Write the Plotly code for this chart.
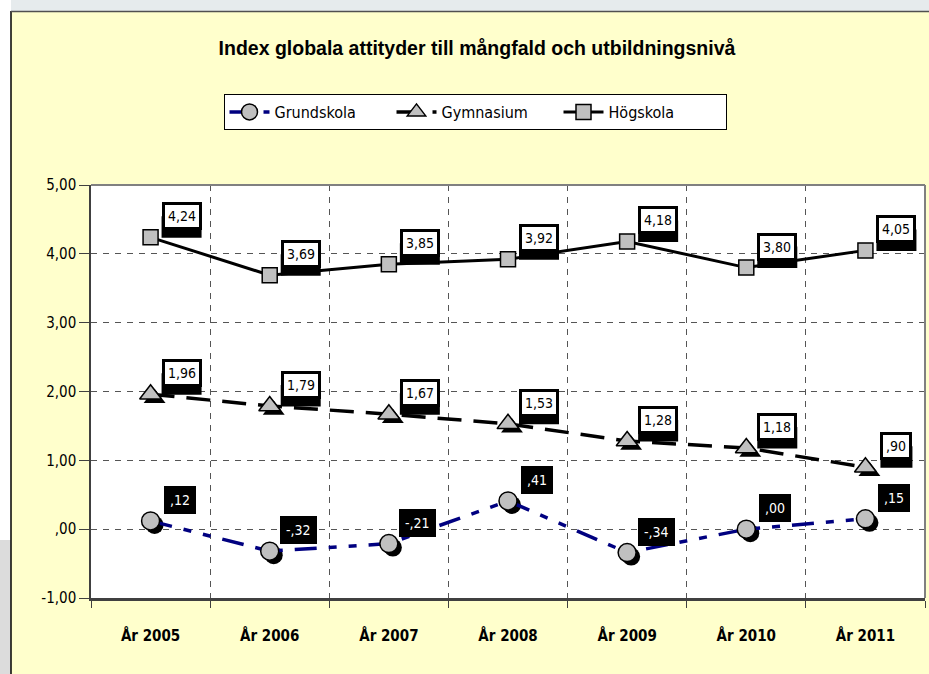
import plotly.graph_objects as go

# ---------------- data ----------------
years = ["År 2005", "År 2006", "År 2007", "År 2008", "År 2009", "År 2010", "År 2011"]
grundskola = [0.12, -0.32, -0.21, 0.41, -0.34, 0.00, 0.15]
gymnasium = [1.96, 1.79, 1.67, 1.53, 1.28, 1.18, 0.90]
hogskola = [4.24, 3.69, 3.85, 3.92, 4.18, 3.80, 4.05]
y_tick_values = [-1, 0, 1, 2, 3, 4, 5]
y_tick_labels = ["-1,00", ",00", "1,00", "2,00", "3,00", "4,00", "5,00"]
title_text = "Index globala attityder till mångfald och utbildningsnivå"

# ---------------- style ----------------
NARROW = "Liberation Sans Narrow, Arial Narrow, DejaVu Sans Condensed, sans-serif"
ARIAL = "Liberation Sans, Arial, sans-serif"
YELLOW = "#FFFFCC"
GREY_MARK = "#C0C0C0"
NAVY = "#000080"

W, H = 929, 674
ML, MR, MT, MB = 91, 4, 185, 76
plot_w = W - ML - MR
plot_h = H - MT - MB
x_idx = list(range(len(years)))
px_per_x = plot_w / len(years)
px_per_y = plot_h / 6.0

LBL_SIZE = 14
BW, PAD = 3, 3


def sv(v):
    s = f"{v:.2f}".replace(".", ",")
    if s.startswith("0,"):
        s = s[1:]
    elif s.startswith("-0,"):
        s = "-" + s[2:]
    return s


def text_w(s):
    w = 0
    for ch in s:
        w += 4.0 if ch == "," else (5.0 if ch == "-" else 8.0)
    return w


def px(p):
    return (p - ML) / plot_w


def py(p):
    return (H - MB - p) / plot_h


fig = go.Figure()

# marker shadows
sdx = 4 / px_per_x
sdy = -4 / px_per_y
fig.add_trace(go.Scatter(x=[i + sdx for i in x_idx], y=[v + sdy for v in grundskola], mode="markers",
                         marker=dict(symbol="circle", size=18, color="black", line=dict(width=0)),
                         showlegend=False, hoverinfo="skip"))
fig.add_trace(go.Scatter(x=[i + sdx for i in x_idx], y=[v + sdy for v in gymnasium], mode="markers",
                         marker=dict(symbol="triangle-up", size=19, color="black", line=dict(width=0)),
                         showlegend=False, hoverinfo="skip"))

fig.add_trace(go.Scatter(
    x=x_idx, y=grundskola, name="Grundskola", mode="lines+markers",
    line=dict(color=NAVY, width=3.5, dash="22px,12px,8px,12px,8px,12px"),
    marker=dict(symbol="circle", size=18, color=GREY_MARK, line=dict(color="black", width=1.5)),
))
fig.add_trace(go.Scatter(
    x=x_idx, y=gymnasium, name="Gymnasium", mode="lines+markers",
    line=dict(color="black", width=3.5, dash="24px,12px"),
    marker=dict(symbol="triangle-up", size=19, color=GREY_MARK, line=dict(color="black", width=1.5)),
))
fig.add_trace(go.Scatter(
    x=x_idx, y=hogskola, name="Högskola", mode="lines+markers",
    line=dict(color="black", width=3),
    marker=dict(symbol="square", size=15, color=GREY_MARK, line=dict(color="black", width=1.5)),
))

annotations = []
shapes = []
DX, DY = 31, 21
box_h = 17 + 2 * PAD + 2 * BW
for series in (hogskola, gymnasium):
    for i, v in zip(x_idx, series):
        t = sv(v)
        bw = text_w(t) + 2 * PAD + 2 * BW
        # thick shadow under the label box
        shapes.append(dict(type="rect", xref="x", yref="y", xsizemode="pixel", ysizemode="pixel",
                           xanchor=i, yanchor=v,
                           x0=DX - bw / 2, x1=DX + bw / 2,
                           y0=DY - box_h / 2 - 7, y1=DY,
                           fillcolor="black", line=dict(width=0), layer="above"))
        annotations.append(dict(x=i, y=v, xref="x", yref="y", text=t, showarrow=False,
                                xshift=DX, yshift=DY,
                                font=dict(family=NARROW, size=LBL_SIZE, color="black"),
                                bgcolor="white", bordercolor="black", borderwidth=BW, borderpad=PAD))
for i, v in zip(x_idx, grundskola):
    annotations.append(dict(x=i, y=v, xref="x", yref="y", text=sv(v), showarrow=False,
                            xshift=DX - 2, yshift=DY,
                            font=dict(family=NARROW, size=LBL_SIZE, color="white"),
                            bgcolor="black", bordercolor="black", borderwidth=0, borderpad=6))

shapes += [
    # top grey strip
    dict(type="rect", xref="paper", yref="paper", x0=px(0), x1=px(W), y0=py(11), y1=py(0),
         fillcolor="#E6EBED", line=dict(width=0), layer="below"),
    # left strip
    dict(type="rect", xref="paper", yref="paper", x0=px(0), x1=px(11), y0=py(H), y1=py(0),
         fillcolor="white", line=dict(width=0), layer="below"),
    dict(type="rect", xref="paper", yref="paper", x0=px(0), x1=px(11), y0=py(H), y1=py(540),
         fillcolor="#DCDCDC", line=dict(width=0), layer="below"),
    # frame lines of the chart area
    dict(type="line", xref="paper", yref="paper", x0=px(11), x1=px(11), y0=py(H), y1=py(11),
         line=dict(color="black", width=1.5)),
    dict(type="line", xref="paper", yref="paper", x0=px(11), x1=px(W), y0=py(11.5), y1=py(11.5),
         line=dict(color="#505050", width=1.5)),
    # right and top border of plot
    dict(type="line", xref="paper", yref="paper", x0=1, x1=1, y0=0, y1=1,
         line=dict(color="#808080", width=2)),
    dict(type="line", xref="paper", yref="paper", x0=0, x1=1, y0=1, y1=1,
         line=dict(color="#808080", width=2)),
]

fig.update_layout(
    width=W, height=H,
    margin=dict(l=ML, r=MR, t=MT, b=MB),
    paper_bgcolor=YELLOW, plot_bgcolor="white",
    title=dict(text=f"<b>{title_text}</b>", x=477 / W, xanchor="center", y=1 - 48 / H, yanchor="middle",
               font=dict(family=ARIAL, size=19.5, color="black")),
    legend=dict(orientation="h", x=px(475), xanchor="center", y=py(94), yanchor="top",
                bgcolor="white", bordercolor="black", borderwidth=1,
                font=dict(family=NARROW, size=16, color="black"),
                entrywidth=112, itemwidth=40),
    annotations=annotations,
    shapes=shapes,
    showlegend=True,
)

fig.update_xaxes(
    range=[-0.5, len(years) - 0.5],
    tickmode="array", tickvals=x_idx, ticktext=[f"<b>{y}</b>" for y in years], ticks="",
    tickfont=dict(family=NARROW, size=15, color="black"),
    ticklabelstandoff=22,
    showgrid=False, zeroline=False,
    showline=True, linecolor="#404040", linewidth=2.5,
    minor=dict(tickvals=[i - 0.5 for i in range(len(years) + 1)], ticks="outside", ticklen=7,
               tickcolor="#404040", showgrid=True, gridcolor="#555555", griddash="6px,6px", gridwidth=1),
)
fig.update_yaxes(
    range=[-1, 5], tickmode="array", tickvals=y_tick_values, ticktext=y_tick_labels,
    ticks="outside", ticklen=10, tickcolor="#404040",
    tickfont=dict(family=NARROW, size=15, color="black"),
    showgrid=True, gridcolor="#555555", griddash="6px,6px", gridwidth=1,
    zeroline=False,
    showline=True, linecolor="#404040", linewidth=1.5, mirror=False,
)

fig.write_html("out.html", config={"displayModeBar": False},
               post_script="document.body.style.margin='0';document.body.style.overflow='hidden';")
